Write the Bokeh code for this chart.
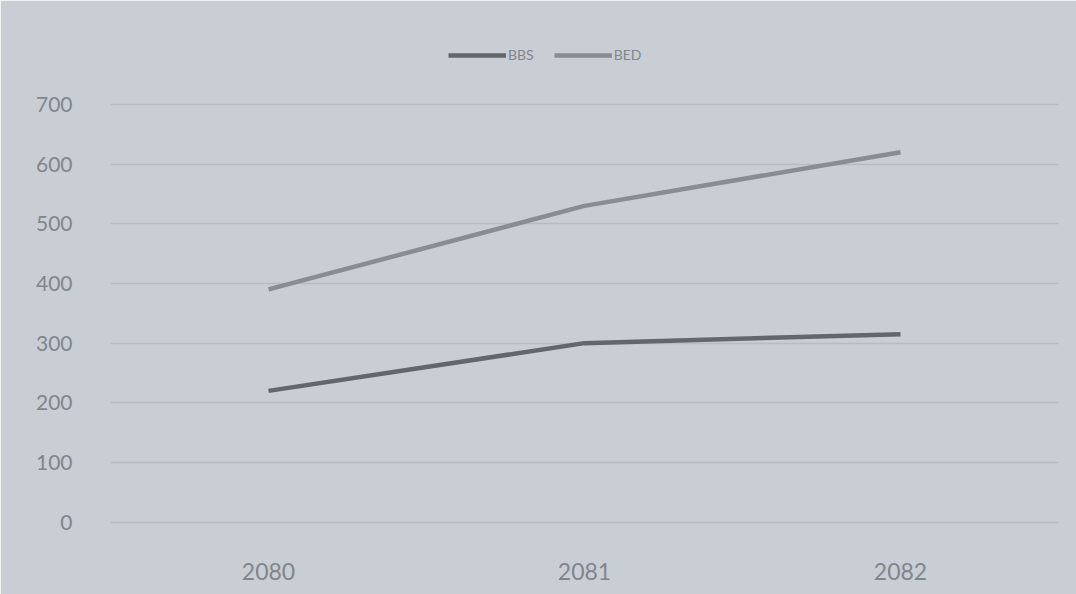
from bokeh.plotting import figure
from bokeh.models import Legend, LegendItem
from bokeh.embed import file_html
from bokeh.resources import INLINE

years = ["2080", "2081", "2082"]
bbs = [220, 300, 315]
bed = [390, 530, 620]
y_ticks = [0, 100, 200, 300, 400, 500, 600, 700]

bg = "#c9ced4"
text_col = "#80868c"

p = figure(x_range=years, y_range=(-4, 824), width=1076, height=594,
           output_backend="svg", toolbar_location=None,
           min_border_left=110, min_border_right=18, min_border_top=30, min_border_bottom=70)
p.background_fill_color = bg
p.border_fill_color = bg
p.outline_line_color = bg
p.outline_line_width = 2

r1 = p.line(years, bbs, line_color="#62676c", line_width=4.5)
r2 = p.line(years, bed, line_color="#888d93", line_width=4.5)

p.xgrid.grid_line_color = None
p.ygrid.grid_line_color = "#b6bcc2"
p.ygrid.grid_line_width = 1.5
p.yaxis.ticker = y_ticks

for ax in (p.xaxis[0], p.yaxis[0]):
    ax.axis_line_color = None
    ax.major_tick_line_color = None
    ax.minor_tick_line_color = None
    ax.major_label_text_color = text_col
    ax.major_label_text_font = "Lato"

p.yaxis.major_label_text_font_size = "21px"
p.yaxis.major_label_standoff = 32
p.xaxis.major_label_text_font_size = "23px"
p.xaxis.major_label_standoff = 32

legend = Legend(items=[LegendItem(label="BBS", renderers=[r1]),
                       LegendItem(label="BED", renderers=[r2])],
                orientation="horizontal", location=(338, 461),
                background_fill_alpha=0, border_line_color=None,
                label_text_color=text_col, label_text_font="Lato",
                label_text_font_size="14px", glyph_width=58, glyph_height=16,
                label_standoff=2, spacing=20, padding=0, margin=0)
p.add_layout(legend, "center")

open("out.html", "w").write(file_html(p, INLINE))
